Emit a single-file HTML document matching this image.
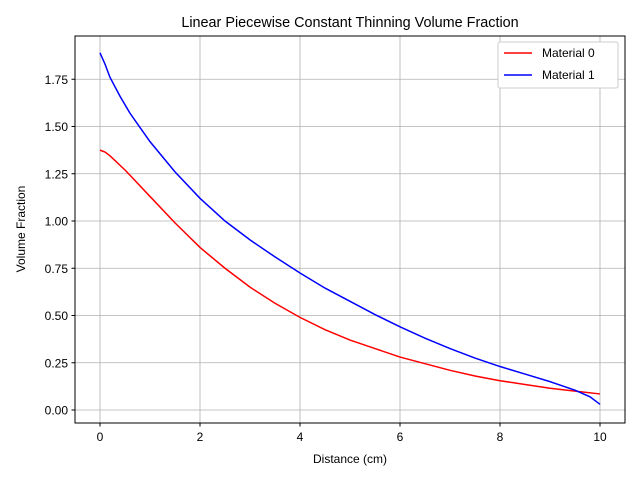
<!DOCTYPE html>
<html><head><meta charset="utf-8"><style>
body{margin:0;background:#fff}
svg{font-family:"Liberation Sans","DejaVu Sans",sans-serif}
</style></head><body>
<svg id="chart" width="640" height="480">
<rect x="0" y="0" width="640" height="480" fill="#fff"/>
<g id="grid"></g>
<g id="series"></g>
<rect x="75" y="36" width="550" height="387" fill="none" stroke="#000" stroke-width="1"/>
<g id="ticks"></g>
<text x="350" y="27" text-anchor="middle" font-size="14.4">Linear Piecewise Constant Thinning Volume Fraction</text>
<text x="350" y="463" text-anchor="middle" font-size="12">Distance (cm)</text>
<text transform="translate(25,229) rotate(-90)" text-anchor="middle" font-size="12">Volume Fraction</text>
<g>
<rect x="498" y="42" width="120" height="46" fill="#fff" stroke="#ccc" rx="2"/>
<line x1="504" y1="53" x2="532" y2="53" stroke="red" stroke-width="1.5"/>
<text x="542" y="57" font-size="12">Material 0</text>
<line x1="504" y1="75" x2="532" y2="75" stroke="blue" stroke-width="1.5"/>
<text x="542" y="79" font-size="12">Material 1</text>
</g>
</svg>
<script>
const xTicks=[0,2,4,6,8,10];
const yTicks=[0,0.25,0.5,0.75,1.0,1.25,1.5,1.75];
const yTickLabels=["0.00","0.25","0.50","0.75","1.00","1.25","1.50","1.75"];
const xs0=[0,0.1,0.2,0.5,1,1.5,2,2.5,3,3.5,4,4.5,5,5.5,6,6.5,7,7.5,8,8.5,9,9.5,10];
const m0=[1.375,1.365,1.345,1.27,1.13,0.99,0.86,0.75,0.65,0.565,0.49,0.425,0.37,0.325,0.28,0.245,0.21,0.18,0.155,0.135,0.115,0.1,0.085];
const xs1=[0,0.1,0.2,0.4,0.6,1,1.5,2,2.5,3,3.5,4,4.5,5,5.5,6,6.5,7,7.5,8,8.5,9,9.5,9.8,10];
const m1=[1.89,1.83,1.76,1.66,1.57,1.42,1.26,1.12,1.0,0.9,0.81,0.725,0.645,0.575,0.505,0.44,0.38,0.325,0.275,0.23,0.19,0.15,0.105,0.07,0.03];
const NS="http://www.w3.org/2000/svg";
const X=v=>100+v*50;
const Y=v=>410-v*189;
const grid=document.getElementById('grid'),ticks=document.getElementById('ticks'),ser=document.getElementById('series');
function mk(tag,attrs,parent){const e=document.createElementNS(NS,tag);for(const k in attrs)e.setAttribute(k,attrs[k]);parent.appendChild(e);return e;}
xTicks.forEach(t=>{
 const g=mk('line',{x1:X(t),x2:X(t),y1:36,y2:423,stroke:'#b0b0b0','stroke-width':0.8},grid);
 
 
 mk('line',{x1:X(t),x2:X(t),y1:423,y2:426.5,stroke:'#000'},ticks);
 const tx=mk('text',{x:X(t),y:441,'text-anchor':'middle','font-size':12},ticks);
 tx.textContent=t;
 
 
});
yTicks.forEach((t,i)=>{
 const g=mk('line',{x1:75,x2:625,y1:Y(t),y2:Y(t),stroke:'#b0b0b0','stroke-width':0.8},grid);
 
 
 mk('line',{x1:71.5,x2:75,y1:Y(t),y2:Y(t),stroke:'#000'},ticks);
 const tx=mk('text',{x:68,y:Y(t)+4.5,'text-anchor':'end','font-size':12},ticks);
 tx.textContent=yTickLabels[i];
 
 
});
function line(xs,ys,color,name){
 const p=mk('polyline',{points:xs.map((x,i)=>X(x)+','+Y(ys[i])).join(' '),fill:'none',stroke:color,'stroke-width':1.5},ser);
 
 
}
line(xs0,m0,'red','material-0-line');
line(xs1,m1,'blue','material-1-line');
</script>
</body></html>
